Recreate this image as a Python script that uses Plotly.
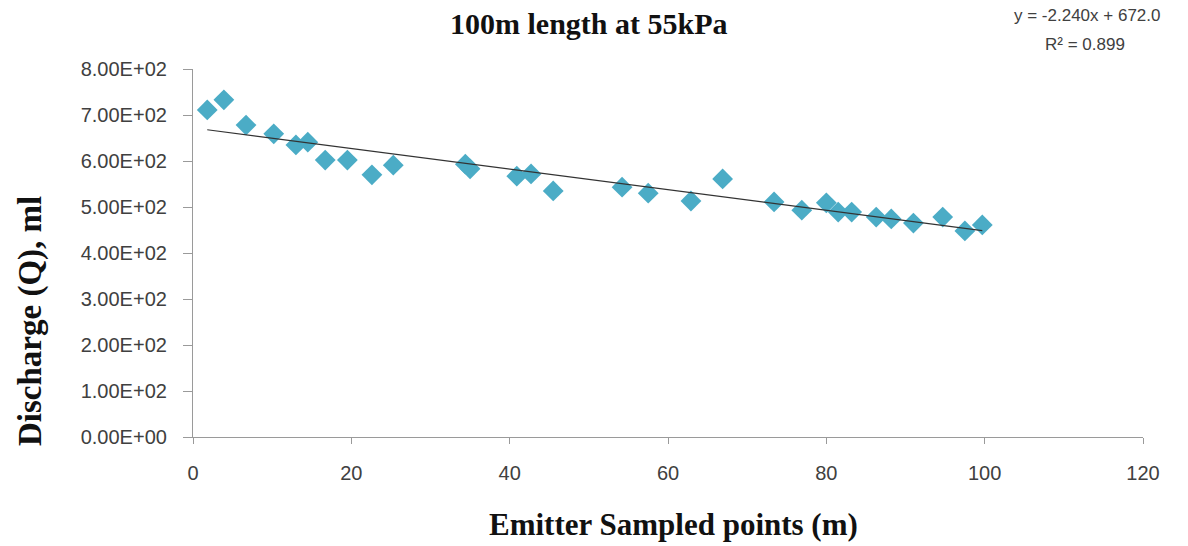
import plotly.graph_objects as go

# Data
distance_m = [1.8, 3.9, 6.7, 10.2, 13.0, 14.5, 16.7, 19.5, 22.6, 25.3,
              34.4, 35.0, 40.9, 42.7, 45.5, 54.2, 57.5, 62.9, 66.9, 73.4,
              76.9, 80.0, 81.5, 83.2, 86.3, 88.2, 91.0, 94.7, 97.5, 99.7]
discharge_ml = [711, 733, 678, 659, 635, 641, 602, 602, 570, 591,
                593, 583, 567, 572, 535, 543, 530, 513, 561, 511,
                493, 509, 489, 489, 478, 474, 465, 478, 448, 461]

slope = -2.240
intercept = 672.0
r_squared = 0.899

y_tick_vals = [0, 100, 200, 300, 400, 500, 600, 700, 800]
y_tick_text = ["0.00E+00", "1.00E+02", "2.00E+02", "3.00E+02", "4.00E+02",
               "5.00E+02", "6.00E+02", "7.00E+02", "8.00E+02"]
x_tick_vals = [0, 20, 40, 60, 80, 100, 120]

trend_x = [min(distance_m), max(distance_m)]
trend_y = [slope * v + intercept for v in trend_x]

fig = go.Figure()
fig.add_trace(go.Scatter(
    x=distance_m, y=discharge_ml, mode="markers",
    marker=dict(symbol="diamond", size=16, color="#4BACC6",
                line=dict(width=0)),
    showlegend=False,
))
fig.add_trace(go.Scatter(
    x=trend_x, y=trend_y, mode="lines",
    line=dict(color="#333333", width=1.2),
    showlegend=False,
))

tick_font = dict(family="Liberation Sans, Arial, sans-serif", size=20, color="#404040")
serif_title = dict(family="Liberation Serif, Times New Roman, serif", size=30, color="#111111")
serif_xaxis = dict(family="Liberation Serif, Times New Roman, serif", size=31, color="#111111")
serif_yaxis = dict(family="Liberation Serif, Times New Roman, serif", size=33, color="#111111")
eq_font = dict(family="Liberation Sans, Arial, sans-serif", size=17, color="#404040")

# body margin is removed by post_script, so figure pixels = screen pixels
W, H = 1188, 546
L, R, T, B = 193, 45, 69, 109
pw, ph = W - L - R, H - T - B


def px_to_paper(px, py):
    return (px - L) / pw, (H - B - py) / ph


eq_text = f"y = {slope:.3f}x + {intercept:.1f}"
r2_text = f"R² = {r_squared:.3f}"

anns = []
for text, sx, sy, font, angle in [
    ("<b>100m length at 55kPa</b>", 589, 23, serif_title, 0),
    ("<b>Emitter Sampled points (m)</b>", 673, 524, serif_xaxis, 0),
    ("<b>Discharge (Q), ml</b>", 30, 321, serif_yaxis, -90),
    (eq_text, 1087, 16, eq_font, 0),
    (r2_text, 1085, 45, eq_font, 0),
]:
    ax, ay = px_to_paper(sx, sy)
    anns.append(dict(text=text, x=ax, y=ay, xref="paper", yref="paper",
                     xanchor="center", yanchor="middle", showarrow=False,
                     textangle=angle, font=font, align="center"))

fig.update_layout(
    width=W, height=H,
    margin=dict(l=L, r=R, t=T, b=B),
    plot_bgcolor="white", paper_bgcolor="white",
    xaxis=dict(range=[0, 120], tickvals=x_tick_vals, showgrid=False, zeroline=False,
               showline=True, linecolor="#9a9a9a", linewidth=1.2,
               ticks="outside", ticklen=6, tickcolor="#9a9a9a",
               ticklabelstandoff=12, tickfont=tick_font),
    yaxis=dict(range=[0, 800], tickvals=y_tick_vals, ticktext=y_tick_text,
               showgrid=False, zeroline=False,
               showline=True, linecolor="#9a9a9a", linewidth=1.2,
               ticks="outside", ticklen=9, tickcolor="#9a9a9a",
               ticklabelstandoff=12, tickfont=tick_font),
    annotations=anns,
)

fig.write_html("out.html",
               config={"displayModeBar": False},
               post_script="document.body.style.margin='0';document.body.style.padding='0';")
